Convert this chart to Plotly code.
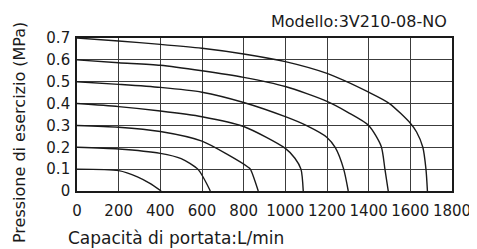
import plotly.graph_objects as go

# Flow (L/min) and pressure (MPa) for each supply-pressure curve
flow_07 = [0, 200, 400, 600, 800, 1000, 1200, 1400, 1500, 1600, 1630, 1660, 1675, 1682]
pres_07 = [0.70, 0.686, 0.671, 0.653, 0.627, 0.592, 0.538, 0.452, 0.40, 0.31, 0.27, 0.20, 0.10, 0.0]

flow_06 = [0, 200, 400, 600, 800, 1000, 1200, 1300, 1400, 1460, 1478, 1494]
pres_06 = [0.60, 0.587, 0.575, 0.55, 0.52, 0.478, 0.41, 0.36, 0.30, 0.205, 0.10, 0.0]

flow_05 = [0, 200, 400, 600, 800, 1000, 1100, 1200, 1240, 1280, 1302]
pres_05 = [0.50, 0.488, 0.474, 0.452, 0.405, 0.34, 0.30, 0.245, 0.198, 0.10, 0.0]

flow_04 = [0, 200, 400, 600, 800, 1000, 1046, 1075, 1086]
pres_04 = [0.40, 0.386, 0.366, 0.34, 0.295, 0.195, 0.15, 0.10, 0.0]

flow_03 = [0, 200, 400, 600, 726, 820, 832, 870]
pres_03 = [0.30, 0.292, 0.272, 0.228, 0.165, 0.11, 0.10, 0.0]

flow_02 = [0, 200, 400, 500, 580, 640]
pres_02 = [0.20, 0.192, 0.172, 0.148, 0.10, 0.0]

flow_01 = [0, 200, 290, 350, 404]
pres_01 = [0.10, 0.093, 0.065, 0.035, 0.0]

x_ticks = [0, 200, 400, 600, 800, 1000, 1200, 1400, 1600, 1800]
y_ticks = [0, 0.1, 0.2, 0.3, 0.4, 0.5, 0.6, 0.7]
y_tick_labels = ["0", "0.1", "0.2", "0.3", "0.4", "0.5", "0.6", "0.7"]

title_text = "Modello:3V210-08-NO"
x_title = "Capacità di portata:L/min"
y_title = "Pressione di esercizio (MPa)"

curves = [
    (flow_07, pres_07), (flow_06, pres_06), (flow_05, pres_05), (flow_04, pres_04),
    (flow_03, pres_03), (flow_02, pres_02), (flow_01, pres_01),
]

FONT = "DejaVu Sans"
BODY = 8  # default page margin of the browser body

fig = go.Figure()
for fx, py in curves:
    fig.add_trace(go.Scatter(
        x=fx, y=py, mode="lines",
        line=dict(color="#1a1a1a", width=1.4, shape="spline", smoothing=0.7),
        showlegend=False, hoverinfo="skip",
    ))

fig.update_layout(
    width=477 - BODY, height=249 - BODY,
    margin=dict(l=77 - BODY, r=25, t=38 - BODY, b=58, autoexpand=False),
    paper_bgcolor="white", plot_bgcolor="white",
    font=dict(family=FONT, color="#1a1a1a"),
    showlegend=False,
)
fig.update_xaxes(
    range=[0, 1800], tickvals=x_ticks, ticktext=[str(v) for v in x_ticks],
    tickangle=0, automargin=False,
    showgrid=True, gridcolor="#3c3c3c", gridwidth=1,
    showline=True, linecolor="#1a1a1a", linewidth=1.6, mirror=True,
    ticks="", ticklabelstandoff=5, tickfont=dict(size=15, family=FONT, color="#1a1a1a"),
    zeroline=False, fixedrange=True,
)
fig.update_yaxes(
    range=[0, 0.7], tickvals=y_ticks, ticktext=y_tick_labels,
    automargin=False,
    showgrid=True, gridcolor="#3c3c3c", gridwidth=1,
    showline=True, linecolor="#1a1a1a", linewidth=1.6, mirror=True,
    ticks="", ticklabelstandoff=2, tickfont=dict(size=15, family=FONT, color="#1a1a1a"),
    zeroline=False, fixedrange=True,
)

def px_x(p):
    return (p - 77) / 375.0

def px_y(p):
    return (191 - p) / 153.0

fig.add_annotation(
    text=title_text, xref="paper", yref="paper",
    x=px_x(449), y=px_y(21.5), xanchor="right", yanchor="middle",
    showarrow=False, font=dict(size=16, family=FONT, color="#1a1a1a"),
)
fig.add_annotation(
    text=x_title, xref="paper", yref="paper",
    x=px_x(66), y=px_y(238), xanchor="left", yanchor="middle",
    showarrow=False, font=dict(size=17, family=FONT, color="#1a1a1a"),
)
fig.add_annotation(
    text=y_title, xref="paper", yref="paper",
    x=px_x(19), y=px_y(133), xanchor="center", yanchor="middle",
    textangle=-90, showarrow=False, font=dict(size=16, family=FONT, color="#1a1a1a"),
)

fig.write_html("out.html")
